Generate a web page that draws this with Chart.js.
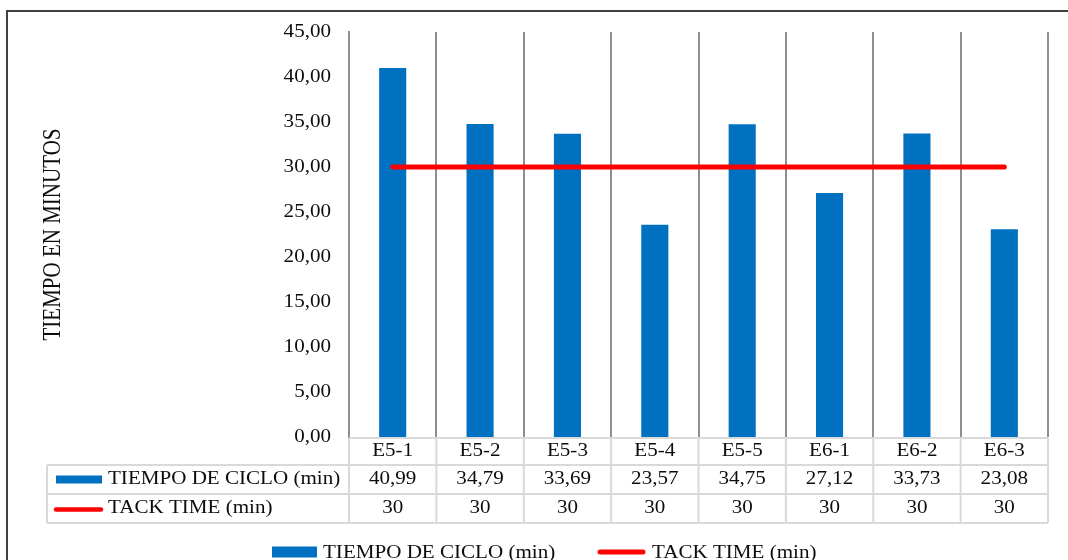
<!DOCTYPE html>
<html>
<head>
<meta charset="utf-8">
<title>Tiempo de ciclo vs Tack time</title>
<script src="https://cdn.jsdelivr.net/npm/chart.js@4.4.1/dist/chart.umd.min.js"></script>
<style>
  html, body { margin: 0; padding: 0; background: #ffffff; }
  canvas { display: block; }
</style>
</head>
<body>
<canvas id="chart" width="1068" height="560"></canvas>
<script>
// Workstations
const categories = ['E5-1', 'E5-2', 'E5-3', 'E5-4', 'E5-5', 'E6-1', 'E6-2', 'E6-3'];
// Cycle time per workstation (min)
const cycleTimes = [40.99, 34.79, 33.69, 23.57, 34.75, 27.12, 33.73, 23.08];
// Takt time reference (min)
const taktTimes = [30, 30, 30, 30, 30, 30, 30, 30];
// Value axis ticks
const yTickValues = [0, 5, 10, 15, 20, 25, 30, 35, 40, 45];
const seriesNames = ['TIEMPO DE CICLO (min)', 'TACK TIME (min)'];
const axisTitle = 'TIEMPO EN MINUTOS';

const BLUE = '#0070c0';
const RED = '#ff0000';
const TEXT = '#0d0d0d';
const GRID = '#8f8f8f';
const TABLE_LINE = '#d9d9d9';
const FONT = "'Liberation Serif', 'Times New Roman', serif";
const FONT_SIZE = 18;
const TEXT_WIDEN = 1.17;

const fmtDecimal = v => v.toFixed(2).replace('.', ',');
const fmtWhole = v => String(v);

Chart.defaults.font.family = FONT;
Chart.defaults.color = TEXT;

const canvas = document.getElementById('chart');
const ctx = canvas.getContext('2d');

// Wide-set lettering: each string is stretched horizontally about its anchor point.
const nativeFillText = CanvasRenderingContext2D.prototype.fillText;
ctx.fillText = function (text, x, y, maxWidth) {
  const m = this.getTransform();
  this.save();
  this.translate(x, y);
  if (Math.abs(m.b) > 1e-6) this.scale(1, TEXT_WIDEN);
  else this.scale(TEXT_WIDEN, 1);
  if (maxWidth === undefined) nativeFillText.call(this, text, 0, 0);
  else nativeFillText.call(this, text, 0, 0, maxWidth);
  this.restore();
};

// Outer frame of the chart object
const frame = {
  id: 'frame',
  beforeDraw(chart) {
    const c = chart.ctx;
    c.save();
    c.strokeStyle = '#404040';
    c.lineWidth = 2;
    c.beginPath();
    c.moveTo(7, chart.height + 5);
    c.lineTo(7, 11);
    c.lineTo(chart.width + 5, 11);
    c.stroke();
    c.restore();
  }
};

function drawBarKey(c, x, yMid, w, h, color) {
  c.fillStyle = color;
  c.fillRect(x, yMid - h / 2, w, h);
}

function drawLineKey(c, x1, x2, y, width, color) {
  c.save();
  c.strokeStyle = color;
  c.lineWidth = width;
  c.lineCap = 'round';
  c.beginPath();
  c.moveTo(x1, y);
  c.lineTo(x2, y);
  c.stroke();
  c.restore();
}

// Data table under the category axis, plus the legend below it
const dataTable = {
  id: 'dataTable',
  afterDraw(chart) {
    const c = chart.ctx;
    const xs = chart.scales.x;
    const area = chart.chartArea;
    const n = categories.length;
    const step = (xs.right - xs.left) / n;
    const edges = [];
    for (let k = 0; k <= n; k++) edges.push(xs.left + k * step);

    const labelLeft = 47;
    const rowLines = [area.bottom + 1, area.bottom + 28, area.bottom + 57, area.bottom + 86];

    c.save();
    c.strokeStyle = TABLE_LINE;
    c.lineWidth = 2;
    c.beginPath();
    // horizontal rules
    c.moveTo(edges[0], rowLines[0]); c.lineTo(edges[n], rowLines[0]);
    for (let r = 1; r < rowLines.length; r++) {
      c.moveTo(labelLeft, rowLines[r]); c.lineTo(edges[n], rowLines[r]);
    }
    // vertical rules
    edges.forEach(e => { c.moveTo(e, rowLines[0]); c.lineTo(e, rowLines[3]); });
    c.moveTo(labelLeft, rowLines[1]); c.lineTo(labelLeft, rowLines[3]);
    c.stroke();

    // series rows
    const rows = [
      { values: cycleTimes, fmt: fmtDecimal, y: (rowLines[1] + rowLines[2]) / 2 },
      { values: taktTimes, fmt: fmtWhole, y: (rowLines[2] + rowLines[3]) / 2 }
    ];
    c.font = FONT_SIZE + 'px ' + FONT;
    c.fillStyle = TEXT;
    c.textBaseline = 'middle';
    c.textAlign = 'center';
    rows.forEach(row => {
      row.values.forEach((v, i) => {
        c.fillText(row.fmt(v), xs.getPixelForValue(i), row.y);
      });
    });

    // row headers with series keys
    drawBarKey(c, 56, rows[0].y, 46, 8, BLUE);
    drawLineKey(c, 56, 101, rows[1].y + 1, 4.5, RED);
    c.fillStyle = TEXT;
    c.textAlign = 'left';
    c.fillText(seriesNames[0], 108, rows[0].y);
    c.fillText(seriesNames[1], 108, rows[1].y);

    // legend
    const ly = 553;
    drawBarKey(c, 272, ly - 1, 45, 11, BLUE);
    c.fillStyle = TEXT;
    c.fillText(seriesNames[0], 323, ly);
    drawLineKey(c, 600, 643, ly - 1, 5, RED);
    c.fillStyle = TEXT;
    c.fillText(seriesNames[1], 652, ly);
    c.restore();
  }
};

new Chart(ctx, {
  type: 'bar',
  data: {
    labels: categories,
    datasets: [
      {
        type: 'line',
        label: seriesNames[1],
        data: taktTimes,
        borderColor: RED,
        backgroundColor: RED,
        borderWidth: 5,
        borderCapStyle: 'round',
        pointRadius: 0,
        pointHoverRadius: 0,
        order: 0
      },
      {
        type: 'bar',
        label: seriesNames[0],
        data: cycleTimes,
        backgroundColor: BLUE,
        categoryPercentage: 1,
        barPercentage: 0.31,
        order: 1
      }
    ]
  },
  options: {
    responsive: false,
    animation: false,
    layout: { padding: { top: 32, right: 20, bottom: 0, left: 0 } },
    plugins: {
      legend: { display: false },
      tooltip: { enabled: false }
    },
    scales: {
      x: {
        offset: true,
        grid: { display: true, offset: true, color: GRID, lineWidth: 2, drawTicks: false },
        border: { display: false },
        ticks: { font: { size: FONT_SIZE }, padding: 3, color: TEXT, autoSkip: false, maxRotation: 0 },
        afterFit: s => { s.height = 123; }
      },
      y: {
        min: 0,
        max: 45,
        grid: { display: false, drawTicks: false },
        border: { display: true, color: GRID, width: 2 },
        ticks: {
          font: { size: FONT_SIZE },
          padding: 18,
          color: TEXT,
          callback: v => fmtDecimal(v)
        },
        title: {
          display: true,
          text: axisTitle,
          font: { size: 21 },
          color: TEXT,
          padding: { top: 41, bottom: 0 }
        },
        afterBuildTicks: s => { s.ticks = yTickValues.map(v => ({ value: v })); },
        afterFit: s => { s.width = 349; }
      }
    }
  },
  plugins: [frame, dataTable]
});
</script>
</body>
</html>
